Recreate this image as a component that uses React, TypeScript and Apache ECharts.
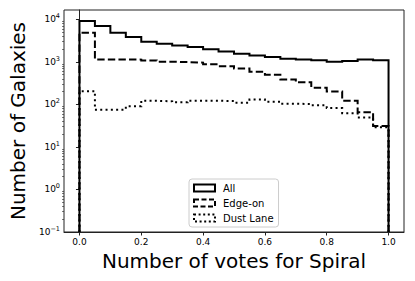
import React, { useEffect, useRef } from "react";
import * as echarts from "echarts";

const binEdges = [0, 0.05, 0.1, 0.15, 0.2, 0.25, 0.3, 0.35, 0.4, 0.45, 0.5, 0.55, 0.6, 0.65, 0.7, 0.75, 0.8, 0.85, 0.9, 0.95, 1.0];
const allCounts = [9120, 6950, 4860, 3840, 2985, 2680, 2445, 2235, 1970, 1765, 1560, 1420, 1300, 1190, 1145, 1090, 1010, 1050, 1145, 1090];
const edgeOnCounts = [4860, 1145, 1140, 1130, 1080, 1010, 990, 960, 880, 795, 700, 590, 500, 387, 330, 245, 200, 122, 65, 31];
const dustLaneCounts = [205, 75, 75, 90, 122, 118, 112, 122, 122, 120, 110, 130, 116, 104, 102, 95, 82, 62, 49, 29];
const seriesNames = ["All", "Edge-on", "Dust Lane"];
const xTickValues = [0, 0.2, 0.4, 0.6, 0.8, 1.0];
const yMajorTicks = [0.1, 1, 10, 100, 1000, 10000];
const yMinorTicks: number[] = [];
for (let d = -1; d <= 4; d++) {
  for (let m = 2; m <= 9; m++) {
    const v = m * Math.pow(10, d);
    if (v < 17000) yMinorTicks.push(v);
  }
}
const Y_MIN = 0.1;
const Y_MAX = 16600;

function stepPoints(counts: number[]): number[][] {
  const pts: number[][] = [[binEdges[0], Y_MIN]];
  counts.forEach((c, i) => {
    pts.push([binEdges[i], c]);
    pts.push([binEdges[i + 1], c]);
  });
  pts.push([binEdges[binEdges.length - 1], Y_MIN]);
  return pts;
}

const FONT = "DejaVu Sans";
const dashed = [7.4, 3.2];
const dotted = [2, 3.3];

export default function App() {
  const ref = useRef<HTMLDivElement>(null);
  useEffect(() => {
    if (!ref.current) return;
    const chart = echarts.init(ref.current, null, { renderer: "svg" });
    const sup = (v: number) => {
      const e = Math.round(Math.log10(v));
      const s = e < 0 ? "\u2212" + -e : String(e);
      return `{b|10}{s|${s}}`;
    };
    chart.setOption({
      animation: false,
      grid: {
        left: 62,
        right: 11,
        top: 10,
        bottom: 49,
        show: true,
        borderColor: "#222",
        borderWidth: 1,
        backgroundColor: "transparent",
      },
      xAxis: {
        type: "value",
        min: -0.05,
        max: 1.05,
        name: "Number of votes for Spiral",
        nameLocation: "middle",
        nameGap: 16,
        nameTextStyle: { fontFamily: FONT, fontSize: 20, color: "#000" },
        axisLine: { show: true, lineStyle: { color: "#222", width: 1 } },
        axisTick: { show: true, customValues: xTickValues, length: 3.5, lineStyle: { color: "#222", width: 1 } },
        axisLabel: {
          customValues: xTickValues,
          formatter: (v: number) => v.toFixed(1),
          fontFamily: FONT,
          fontSize: 9,
          color: "#000",
          margin: 5,
        },
        splitLine: { show: false },
      },
      yAxis: [
        {
          type: "log",
          logBase: 10,
          min: Y_MIN,
          max: Y_MAX,
          position: "left",
          name: "Number of Galaxies",
          nameLocation: "middle",
          nameGap: 36,
          nameRotate: 90,
          nameTextStyle: { fontFamily: FONT, fontSize: 20, color: "#000" },
          axisLine: { show: true, lineStyle: { color: "#222", width: 1 } },
          axisTick: { show: true, customValues: yMajorTicks, length: 3.5, lineStyle: { color: "#222", width: 1 } },
          axisLabel: {
            customValues: yMajorTicks,
            formatter: sup,
            margin: 4,
            color: "#000",
            rich: {
              b: { fontFamily: FONT, fontSize: 9, color: "#000", lineHeight: 13 },
              s: { fontFamily: FONT, fontSize: 6.5, color: "#000", lineHeight: 8, verticalAlign: "top" },
            },
          },
          splitLine: { show: false },
        },
        {
          type: "log",
          logBase: 10,
          min: Y_MIN,
          max: Y_MAX,
          position: "left",
          axisLine: { show: false },
          axisTick: { show: true, customValues: yMinorTicks, length: 2, lineStyle: { color: "#222", width: 0.6 } },
          axisLabel: { show: false },
          splitLine: { show: false },
        },
      ],
      legend: {
        orient: "vertical",
        left: 189,
        top: 179,
        padding: [3, 5, 3, 4],
        itemWidth: 21,
        itemHeight: 7,
        itemGap: 3,
        backgroundColor: "rgba(255,255,255,0.8)",
        borderColor: "#ccc",
        borderWidth: 1,
        borderRadius: 3,
        textStyle: { fontFamily: FONT, fontSize: 10, color: "#000", lineHeight: 12, padding: [0, 0, 0, 3] },
        data: [
          { name: seriesNames[0], icon: "rect", itemStyle: { color: "rgba(255,255,255,0)", borderColor: "#000", borderWidth: 2, borderType: "solid" } },
          { name: seriesNames[1], icon: "rect", itemStyle: { color: "rgba(255,255,255,0)", borderColor: "#000", borderWidth: 2, borderType: [5, 2.5] } },
          { name: seriesNames[2], icon: "rect", itemStyle: { color: "rgba(255,255,255,0)", borderColor: "#000", borderWidth: 2, borderType: [2, 2.6] } },
        ],
      },
      series: [
        {
          name: seriesNames[0],
          type: "line",
          data: stepPoints(allCounts),
          showSymbol: false,
          symbol: "none",
          clip: true,
          lineStyle: { color: "#000", width: 2, type: "solid", join: "miter", cap: "butt" },
          itemStyle: { color: "#000" },
        },
        {
          name: seriesNames[1],
          type: "line",
          data: stepPoints(edgeOnCounts),
          showSymbol: false,
          symbol: "none",
          clip: true,
          lineStyle: { color: "#000", width: 2, type: dashed, join: "miter", cap: "butt" },
          itemStyle: { color: "#000" },
        },
        {
          name: seriesNames[2],
          type: "line",
          data: stepPoints(dustLaneCounts),
          showSymbol: false,
          symbol: "none",
          clip: true,
          lineStyle: { color: "#000", width: 2, type: dotted, join: "miter", cap: "butt" },
          itemStyle: { color: "#000" },
        },
      ],
    });
    return () => chart.dispose();
  }, []);
  return <div ref={ref} style={{ width: 415, height: 281, position: "absolute", left: 0, top: 0 }} />;
}
